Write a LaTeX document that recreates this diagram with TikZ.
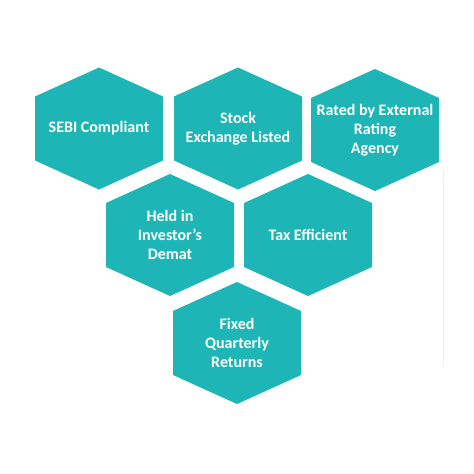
\documentclass[tikz,border=0pt]{standalone}
\usepackage{fontspec}
\setmainfont{Carlito}
\usepackage{tikz}
\definecolor{hexfill}{HTML}{1DB5B5}
\tikzset{
  hexlabel/.style={text=white,font=\bfseries\fontsize{16}{19}\selectfont,align=center}
}

\begin{document}
\begin{tikzpicture}[x=1pt,y=-1pt]
  \useasboundingbox[fill=white] (0,0) rectangle (474,474);
  \foreach \cx/\cy/\nm/\txt in {
      99/128.5/sebi/{SEBI Compliant},
      238/128.5/stock/{Stock\\Exchange Listed},
      375/130/rated/{Rated by External\\Rating\\Agency},
      170/235/held/{Held in\\Investor’s\\Demat},
      308/235/tax/{Tax Efficient},
      237/343/fixed/{Fixed\\Quarterly\\Returns}}{
    \fill[hexfill] (\cx,\cy) ++(0,-61) -- ++(64,29) -- ++(0,64) -- ++(-64,29)
      -- ++(-64,-29) -- ++(0,-64) -- cycle;
    \node[hexlabel] (\nm) at (\cx,\cy) {\txt};
  }
  \draw[black!6] (443,170) -- (443,367);
\end{tikzpicture}
\end{document}
